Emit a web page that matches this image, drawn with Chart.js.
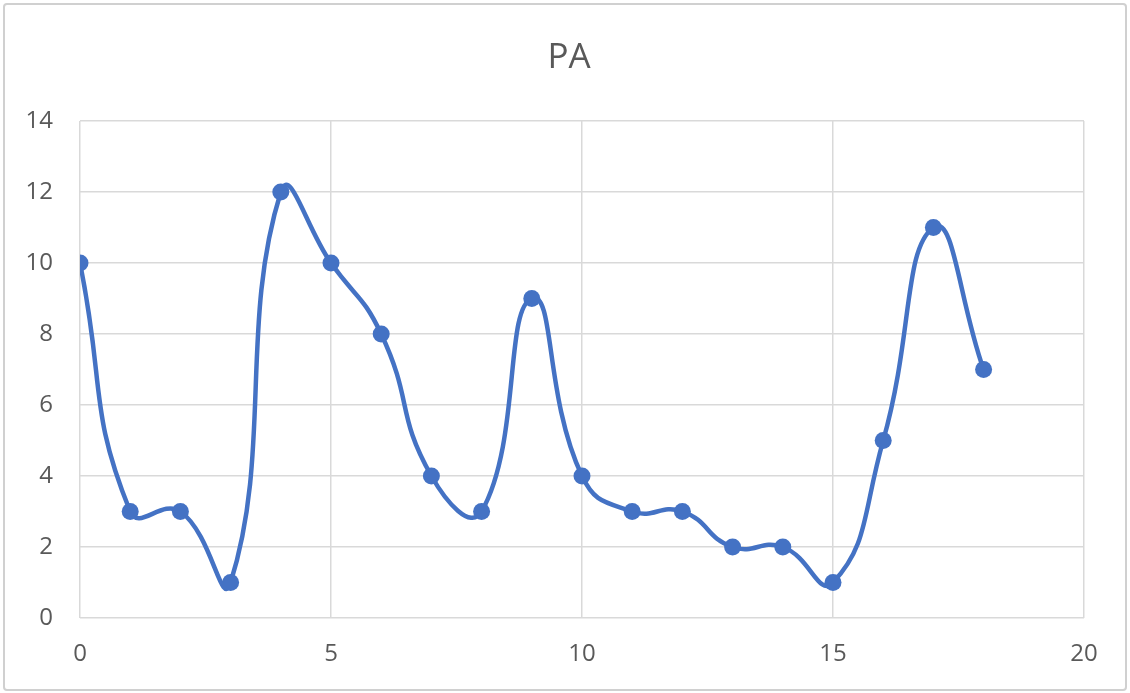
<!DOCTYPE html>
<html>
<head>
<meta charset="utf-8">
<script src="https://cdn.jsdelivr.net/npm/chart.js@4.4.1/dist/chart.umd.min.js"></script>
<style>
  html, body { margin: 0; padding: 0; background: #ffffff; }
  #wrap { width: 1130px; height: 693px; position: relative; }
</style>
</head>
<body>
<div id="wrap"><canvas id="chart" width="1130" height="693"></canvas></div>
<script>
// Series: PA readings by sample index
const xValues = [0, 1, 2, 3, 4, 5, 6, 7, 8, 9, 10, 11, 12, 13, 14, 15, 16, 17, 18];
const paValues = [10, 3, 3, 1, 12, 10, 8, 4, 3, 9, 4, 3, 3, 2, 2, 1, 5, 11, 7];
const chartTitle = 'PA';
const xTickValues = [0, 5, 10, 15, 20];
const yTickValues = [0, 2, 4, 6, 8, 10, 12, 14];

const points = xValues.map((x, i) => ({ x: x, y: paValues[i] }));

const textColor = '#595959';
const gridColor = '#d9d9d9';
const seriesColor = '#4472c4';
const fontFamily = '"Open Sans", "Liberation Sans", sans-serif';

// Light frame around the whole chart, plus the chart title centred on the canvas
const framePlugin = {
  id: 'frame',
  beforeDraw(chart) {
    const ctx = chart.ctx;
    ctx.save();
    ctx.fillStyle = '#ffffff';
    ctx.fillRect(0, 0, chart.width, chart.height);
    ctx.strokeStyle = '#d0d0d0';
    ctx.lineWidth = 2;
    ctx.beginPath();
    ctx.roundRect(4, 4, chart.width - 8, chart.height - 7, 3);
    ctx.stroke();
    ctx.restore();
  },
  afterDraw(chart) {
    const ctx = chart.ctx;
    ctx.save();
    ctx.fillStyle = textColor;
    ctx.font = '35px ' + fontFamily;
    ctx.textAlign = 'center';
    ctx.textBaseline = 'middle';
    ctx.fillText(chartTitle, 569, 58);
    ctx.restore();
  }
};

new Chart(document.getElementById('chart'), {
  type: 'scatter',
  data: {
    datasets: [{
      label: chartTitle,
      data: points,
      showLine: true,
      borderColor: seriesColor,
      backgroundColor: seriesColor,
      borderWidth: 4.5,
      tension: 0.5,
      pointRadius: 8.5,
      pointHoverRadius: 8.5,
      pointBorderWidth: 0
    }]
  },
  options: {
    responsive: false,
    animation: false,
    layout: { padding: { left: 0, right: 46, top: 121, bottom: 0 } },
    plugins: {
      legend: { display: false },
      tooltip: { enabled: false },
      title: { display: false }
    },
    scales: {
      x: {
        type: 'linear',
        min: 0,
        max: 20,
        afterBuildTicks(scale) { scale.ticks = xTickValues.map(v => ({ value: v })); },
        afterFit(scale) { scale.height = 75; },
        grid: { color: gridColor, lineWidth: 1.5, drawTicks: false },
        border: { display: false },
        ticks: {
          color: textColor,
          font: { family: fontFamily, size: 24 },
          padding: 22,
          maxRotation: 0
        }
      },
      y: {
        min: 0,
        max: 14,
        afterBuildTicks(scale) { scale.ticks = yTickValues.map(v => ({ value: v })); },
        afterFit(scale) { scale.width = 80; },
        grid: { color: gridColor, lineWidth: 1.5, drawTicks: false },
        border: { display: false },
        ticks: {
          color: textColor,
          font: { family: fontFamily, size: 24 },
          padding: 27
        }
      }
    }
  },
  plugins: [framePlugin]
});
</script>
</body>
</html>
